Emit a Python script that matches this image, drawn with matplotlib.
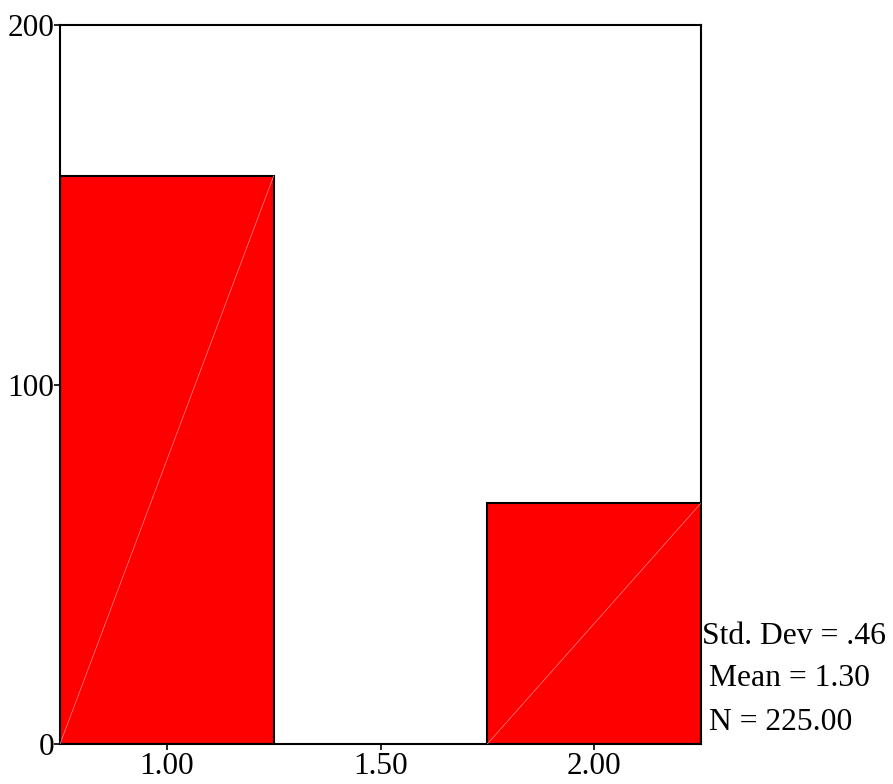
import matplotlib
matplotlib.use('Agg')
import matplotlib.pyplot as plt

# Histogram bins (centres) and counts.
binCentres = [1.00, 2.00]
counts = [158, 67]
binWidth = 0.5

# Tick labels.
xTicks = [1.00, 1.50, 2.00]
xTickLabels = ['1.00', '1.50', '2.00']
yTicks = [0, 100, 200]

# Summary statistics text.
statLines = ['Std. Dev = .46', 'Mean = 1.30', 'N = 225.00']

plt.rcParams['font.family'] = ['Liberation Serif', 'DejaVu Serif']

W, H = 893, 784
fig = plt.figure(figsize=(W/100, H/100), dpi=100)
ax = fig.add_axes([60/W, 40/H, (701 - 60)/W, (744 - 25)/H])

ax.bar(binCentres, counts, width=binWidth, color='#ff0000',
       edgecolor='black', linewidth=1.5, zorder=2)

# Faint diagonal seams seen inside each filled bar.
for c, n in zip(binCentres, counts):
    ax.plot([c - binWidth/2, c + binWidth/2], [0, n], color='#ff8c8c',
            linewidth=0.5, zorder=3)

ax.set_xlim(0.75, 2.25)
ax.set_ylim(0, 200)
ax.set_xticks(xTicks)
ax.set_xticklabels(xTickLabels)
ax.set_yticks(yTicks)
ax.tick_params(axis='both', labelsize=22.5, direction='out', length=4,
               width=1.2)
ax.tick_params(axis='x', pad=2)
ax.tick_params(axis='y', pad=0)
for s in ax.spines.values():
    s.set_linewidth(1.5)

# Stats block to the right of the plot.
statPos = [(702, 637), (709, 678), (709, 722)]
for txt, (px, py) in zip(statLines, statPos):
    fig.text(px/W, 1 - py/H, txt, fontsize=22.8, ha='left', va='center')

fig.savefig('out.png', dpi=100)
